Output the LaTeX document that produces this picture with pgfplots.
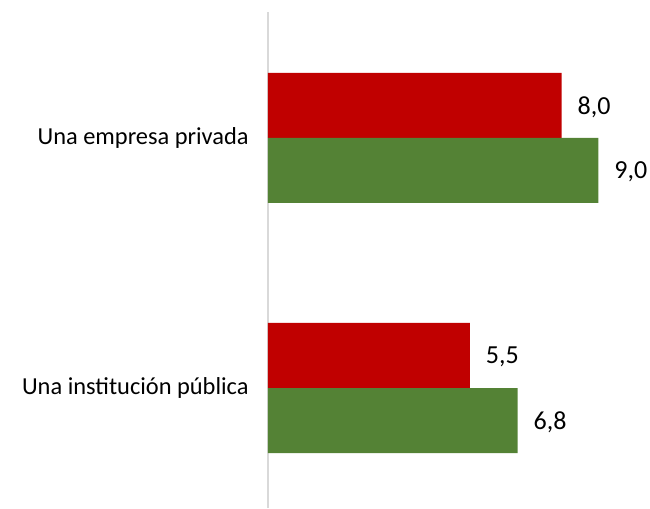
\documentclass[border=0pt]{standalone}
\usepackage{fontspec}
\setmainfont{Carlito}
\usepackage{pgfplots}
\pgfplotsset{compat=1.18}
\definecolor{barred}{HTML}{C00000}
\definecolor{bargreen}{HTML}{548235}
\definecolor{axisgray}{HTML}{D9D9D9}
\begin{document}
\begin{tikzpicture}
\begin{axis}[
    name=ax,
    scale only axis,
    width=275.25pt, height=372pt,
    xmin=0, xmax=10,
    ymin=-0.48, ymax=1.504,
    axis x line=none,
    axis y line*=left,
    y axis line style={axisgray, line width=1.5pt, -},
    ytick={0,1},
    yticklabels={Una institución pública, Una empresa privada},
    major tick length=0pt,
    yticklabel style={font=\fontsize{18.3}{22}\selectfont, xshift=-11pt},
    xbar, bar width=0.26,
    nodes near coords,
    nodes near coords style={font=\fontsize{19.5}{23}\selectfont, xshift=8.5pt, yshift=-1pt,
        /pgf/number format/.cd, assume math mode=true, use comma, fixed, fixed zerofill, precision=1},
    clip=false,
]
\addplot[fill=barred, draw=none, bar shift=0.13] coordinates {(8.0,1) (5.5,0)};
\addplot[fill=bargreen, draw=none, bar shift=-0.13] coordinates {(9.0,1) (6.8,0)};
\end{axis}
\pgfresetboundingbox
\path[use as bounding box] (ax.south west) ++(-201pt,0) rectangle ++(487.5pt,381pt);
\end{tikzpicture}
\end{document}
